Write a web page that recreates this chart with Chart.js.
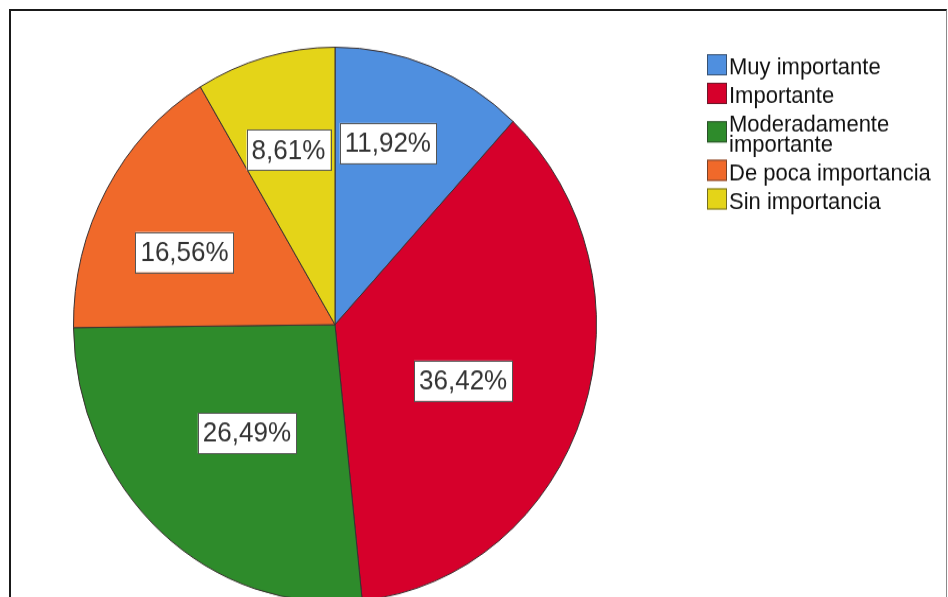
<!DOCTYPE html>
<html>
<head>
<meta charset="utf-8">
<script src="https://cdn.jsdelivr.net/npm/chart.js@4.4.1/dist/chart.umd.min.js"></script>
<style>
  html, body { margin: 0; padding: 0; background: #fff; width: 948px; height: 597px; overflow: hidden; }
  .frame {
    position: absolute; left: 9px; top: 9px; width: 938px; height: 620px;
    box-sizing: border-box;
    border-left: 2px solid #1a1a1a; border-top: 2px solid #1a1a1a; border-right: 1px solid #8a8a8a;
  }
  /* the reference pie is slightly taller than wide */
  .wrap { position: absolute; left: 0; top: 0; width: 948px; height: 580px; transform: scaleY(1.061); transform-origin: 0 0; }
</style>
</head>
<body>
<div class="frame"></div>
<div class="wrap"><canvas id="myChart" width="948" height="580"></canvas></div>
<script>
const categories = ["Muy importante", "Importante", "Moderadamente importante", "De poca importancia", "Sin importancia"];
const values = [11.92, 36.42, 26.49, 16.56, 8.61];
const colors = ["#4f8fdf", "#d6002b", "#2e8b2b", "#f0692a", "#e4d418"];

// draws the white boxed percentages on each slice
const pctLabels = {
  id: "pctLabels",
  afterDatasetsDraw(chart, args, opts) {
    const ctx = chart.ctx;
    const meta = chart.getDatasetMeta(0);
    ctx.save();
    ctx.font = opts.font;
    ctx.textAlign = "center";
    ctx.textBaseline = "middle";
    meta.data.forEach((arc, i) => {
      const ang = arc.startAngle + (arc.endAngle - arc.startAngle) * opts.along[i];
      const r = arc.outerRadius * opts.radius[i];
      const x = arc.x + Math.cos(ang) * r;
      const y = arc.y + Math.sin(ang) * r;
      const text = values[i].toFixed(2).replace(".", ",") + "%";
      const w = ctx.measureText(text).width + opts.padX * 2;
      const h = opts.boxHeight;
      ctx.fillStyle = "#fff";
      ctx.fillRect(x - w / 2, y - h / 2, w, h);
      ctx.strokeStyle = "#555";
      ctx.lineWidth = 1;
      ctx.strokeRect(Math.round(x - w / 2) + 0.5, Math.round(y - h / 2) + 0.5, Math.round(w), Math.round(h));
      ctx.fillStyle = "#333";
      ctx.fillText(text, x, y + 1);
    });
    ctx.restore();
  },
};

// legend at the top right, long labels wrap onto a second line
const sideLegend = {
  id: "sideLegend",
  afterDraw(chart, args, opts) {
    const ctx = chart.ctx;
    ctx.save();
    ctx.font = opts.font;
    ctx.textBaseline = "middle";
    let y = opts.y;
    chart.data.labels.forEach((label, i) => {
      const words = label.split(" ");
      const lines = [];
      let line = "";
      words.forEach((wd) => {
        const test = line ? line + " " + wd : wd;
        if (line && ctx.measureText(test).width > opts.maxWidth) {
          lines.push(line);
          line = wd;
        } else {
          line = test;
        }
      });
      lines.push(line);
      const blockMid = y + ((lines.length - 1) * opts.lineHeight) / 2;
      ctx.fillStyle = colors[i];
      ctx.fillRect(opts.x, blockMid - opts.box / 2 - 3, opts.box, opts.box);
      ctx.strokeStyle = "rgba(40,40,40,0.6)";
      ctx.lineWidth = 1;
      ctx.strokeRect(opts.x + 0.5, blockMid - opts.box / 2 - 3 + 0.5, opts.box - 1, opts.box - 1);
      ctx.fillStyle = "#111";
      lines.forEach((ln, k) => {
        ctx.fillText(ln, opts.x + opts.box + 2, y + k * opts.lineHeight);
      });
      y += (lines.length - 1) * opts.lineHeight + opts.pitch;
    });
    ctx.restore();
  },
};

const data = {
  labels: categories,
  datasets: [
    {
      data: values,
      backgroundColor: colors,
      borderColor: "#3a3030",
      borderWidth: 1,
    },
  ],
};

const config = {
  type: "pie",
  data: data,
  plugins: [pctLabels, sideLegend],
  options: {
    responsive: false,
    animation: false,
    devicePixelRatio: 1,
    layout: {
      padding: { top: 44, bottom: 12, left: 73, right: 351 },
    },
    plugins: {
      legend: { display: false },
      tooltip: { enabled: false },
      title: { display: false },
      pctLabels: {
        font: '26px "Liberation Sans", Arial, sans-serif',
        along: [0.4, 0.53, 0.49, 0.42, 0.49],
        radius: [0.685, 0.53, 0.516, 0.632, 0.654],
        padX: 5,
        boxHeight: 38,
      },
      sideLegend: {
        font: '22px "Liberation Sans", Arial, sans-serif',
        x: 707,
        y: 64,
        box: 20,
        pitch: 27,
        lineHeight: 18.5,
        maxWidth: 215,
      },
    },
  },
};

new Chart(document.getElementById("myChart"), config);
</script>
</body>
</html>
